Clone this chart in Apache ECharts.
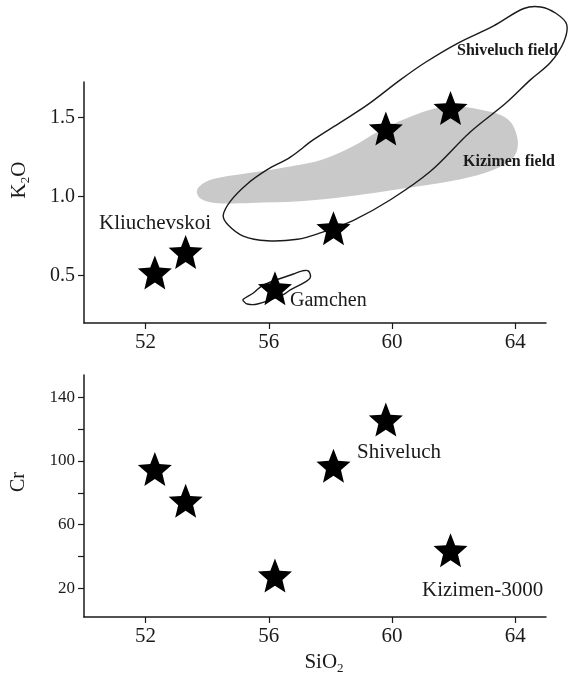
<!DOCTYPE html>
<html><head><meta charset="utf-8">
<script src="https://cdn.jsdelivr.net/npm/echarts@6/dist/echarts.min.js"></script>
<style>html,body{margin:0;padding:0;background:#fff}#c{width:569px;height:680px}</style>
</head><body><div id="c"></div>
<script>
// ---- data ----
const sio2 = [52.3, 53.3, 56.2, 58.1, 59.8, 61.9];
const k2o = [0.52, 0.65, 0.42, 0.80, 1.43, 1.56];
const cr = [95, 75, 28, 97, 126, 44];
const xTicks = [52, 56, 60, 64];
const k2oTicks = [0.5, 1.0, 1.5];
const crTicks = [20, 40, 60, 80, 100, 120, 140];
const crLabels = [20, 60, 100, 140];
// field outlines [SiO2, K2O]
const shiveluchField = [[54.52,0.88],[54.75,0.97],[55.30,1.08],[55.95,1.17],[56.70,1.25],[57.45,1.36],[58.33,1.47],[59.20,1.58],[60.28,1.74],[61.09,1.85],[62.13,1.97],[63.30,2.08],[64.28,2.19],[64.83,2.20],[65.32,2.16],[65.67,2.09],[65.58,1.98],[65.15,1.85],[64.50,1.74],[63.69,1.59],[62.55,1.41],[61.25,1.16],[59.95,0.98],[58.75,0.85],[57.67,0.77],[56.93,0.73],[55.95,0.72],[55.17,0.75],[54.68,0.82]];
const kizimenField = [[53.67,1.04],[53.93,1.09],[54.42,1.12],[55.40,1.15],[56.37,1.18],[57.67,1.23],[58.65,1.31],[59.63,1.42],[60.93,1.53],[61.80,1.57],[62.88,1.55],[63.76,1.49],[64.08,1.36],[63.95,1.25],[63.30,1.17],[62.23,1.11],[60.70,1.06],[58.55,1.00],[57.02,0.97],[55.40,0.96],[54.26,0.96],[53.77,0.99]];
const gamchenField = [[55.17,0.35],[55.50,0.39],[55.82,0.44],[56.80,0.51],[57.09,0.53],[57.28,0.53],[57.35,0.49],[57.19,0.46],[56.70,0.41],[56.47,0.38],[55.63,0.32],[55.30,0.32],[55.17,0.34]];

const starPath = (function(){
  let d = '';
  for (let k = 0; k < 10; k++) {
    const a = (-90 + 36 * k) * Math.PI / 180;
    const r = k % 2 ? 22 : 50;
    d += (k ? 'L' : 'M') + (50 + r * Math.cos(a)).toFixed(2) + ' ' + (50 + r * Math.sin(a)).toFixed(2);
  }
  return 'path://' + d + 'Z';
})();

const FONT = 'Liberation Serif';
const INK = '#1a1a1a';

function polySeries(pts, fill, stroke, z) {
  return {
    type: 'custom', xAxisIndex: 0, yAxisIndex: 0, clip: false, silent: true, z: z,
    data: pts,
    renderItem: function(params, api) {
      if (params.dataIndex !== 0) return null;
      return {
        type: 'polygon',
        shape: { points: pts.map(p => api.coord(p)), smooth: 0.35 },
        style: { fill: fill, stroke: stroke, lineWidth: 1.4 }
      };
    }
  };
}

function xAxisCfg(gi) {
  return {
    gridIndex: gi, type: 'value', min: 50, max: 65,
    axisLine: { show: true, onZero: false, lineStyle: { color: INK, width: 1.5 } },
    axisTick: { show: true, inside: false, length: 6, customValues: xTicks, lineStyle: { color: INK, width: 1.2 } },
    axisLabel: { customValues: xTicks, color: INK, fontFamily: FONT, fontSize: 21, margin: 9 },
    splitLine: { show: false }
  };
}

const starStyle = { color: '#000', opacity: 1, borderWidth: 0 };

const chart = echarts.init(document.getElementById('c'));
chart.setOption({
  backgroundColor: '#fff',
  animation: false,
  grid: [
    { left: 84, top: 82, width: 462, height: 241 },
    { left: 84, top: 375, width: 462, height: 242 }
  ],
  xAxis: [xAxisCfg(0), xAxisCfg(1)],
  yAxis: [
    { gridIndex: 0, type: 'value', min: 0.2, max: 1.725,
      axisLine: { show: true, onZero: false, lineStyle: { color: INK, width: 1.5 } },
      axisTick: { show: true, length: 6, customValues: k2oTicks, lineStyle: { color: INK, width: 1.2 } },
      axisLabel: { customValues: k2oTicks, formatter: v => v.toFixed(1), color: INK, fontFamily: FONT, fontSize: 20, margin: 9 },
      splitLine: { show: false } },
    { gridIndex: 1, type: 'value', min: 2, max: 154,
      axisLine: { show: true, onZero: false, lineStyle: { color: INK, width: 1.5 } },
      axisTick: { show: true, length: 6, customValues: crTicks, lineStyle: { color: INK, width: 1.2 } },
      axisLabel: { customValues: crLabels, color: INK, fontFamily: FONT, fontSize: 17, margin: 9 },
      splitLine: { show: false } }
  ],
  series: [
    polySeries(kizimenField, '#c9c9c9', null, 1),
    polySeries(shiveluchField, null, INK, 2),
    polySeries(gamchenField, null, INK, 2),
    { type: 'scatter', xAxisIndex: 0, yAxisIndex: 0, z: 5, symbol: starPath, symbolSize: 34,
      itemStyle: starStyle, emphasis: { disabled: true }, data: sio2.map((x, i) => [x, k2o[i]]) },
    { type: 'scatter', xAxisIndex: 1, yAxisIndex: 1, z: 5, symbol: starPath, symbolSize: 34,
      itemStyle: starStyle, emphasis: { disabled: true }, data: sio2.map((x, i) => [x, cr[i]]) }
  ],
  graphic: [
    { type: 'text', x: 19, y: 180, rotation: Math.PI / 2, z: 10,
      style: { text: '{a|K}{s|2}{a|O}', align: 'center', verticalAlign: 'middle', fill: INK,
        rich: { a: { fontFamily: FONT, fontSize: 21, lineHeight: 26, fill: INK },
                s: { fontFamily: FONT, fontSize: 13, lineHeight: 26, verticalAlign: 'bottom', fill: INK } } } },
    { type: 'text', x: 19, y: 482, rotation: Math.PI / 2, z: 10,
      style: { text: 'Cr', align: 'center', verticalAlign: 'middle', fill: INK, font: '20px "Liberation Serif"' } },
    { type: 'text', x: 324, y: 662, z: 10,
      style: { text: '{a|SiO}{s|2}', align: 'center', verticalAlign: 'middle', fill: INK,
        rich: { a: { fontFamily: FONT, fontSize: 21, lineHeight: 26, fill: INK },
                s: { fontFamily: FONT, fontSize: 13, lineHeight: 26, verticalAlign: 'bottom', fill: INK } } } },
    { type: 'text', x: 99, y: 223, z: 10,
      style: { text: 'Kliuchevskoi', verticalAlign: 'middle', fill: INK, font: '21px "Liberation Serif"' } },
    { type: 'text', x: 290, y: 301, z: 10,
      style: { text: 'Gamchen', verticalAlign: 'middle', fill: INK, font: '20px "Liberation Serif"' } },
    { type: 'text', x: 457, y: 51, z: 10,
      style: { text: 'Shiveluch field', verticalAlign: 'middle', fill: INK, font: 'bold 16px "Liberation Serif"' } },
    { type: 'text', x: 463, y: 162, z: 10,
      style: { text: 'Kizimen field', verticalAlign: 'middle', fill: INK, font: 'bold 16px "Liberation Serif"' } },
    { type: 'text', x: 357, y: 452, z: 10,
      style: { text: 'Shiveluch', verticalAlign: 'middle', fill: INK, font: '21px "Liberation Serif"' } },
    { type: 'text', x: 422, y: 590, z: 10,
      style: { text: 'Kizimen-3000', verticalAlign: 'middle', fill: INK, font: '21px "Liberation Serif"' } }
  ]
});
</script></body></html>
